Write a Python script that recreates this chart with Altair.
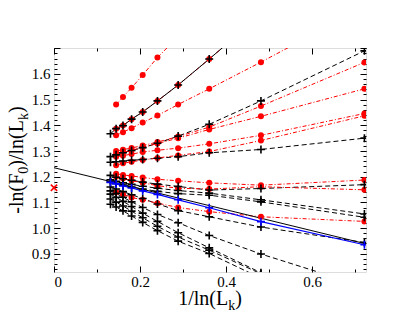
import altair as alt
import pandas as pd

# x positions: 1/ln(L_k) for L_k = 2048 ... 4
X = [0.1312, 0.1443, 0.1603, 0.1803, 0.2061, 0.2404, 0.2885, 0.3607, 0.4809, 0.7213]

# black dashed series (plus markers)
bd1 = [1.278, 1.285, 1.293, 1.302, 1.313, 1.330, 1.358, 1.404, 1.495, 1.690]
bd2 = [1.256, 1.258, 1.261, 1.264, 1.267, 1.272, 1.278, 1.293, 1.306, 1.350]
bd3 = [1.205, 1.198, 1.192, 1.186, 1.179, 1.171, 1.162, 1.148, 1.154, 1.169]
bd4 = [1.188, 1.182, 1.176, 1.170, 1.163, 1.155, 1.146, 1.136, 1.110, 1.055]
bd5 = [1.180, 1.174, 1.167, 1.160, 1.152, 1.143, 1.134, 1.128, 1.102, 1.042]
bd6 = [1.160, 1.152, 1.142, 1.130, 1.115, 1.094, 1.068, 1.044, 1.004, 0.944]
bd7 = [1.145, 1.135, 1.120, 1.102, 1.080, 1.053, 1.021, 0.971, 0.899, 0.772]
bd8 = [1.132, 1.120, 1.104, 1.084, 1.058, 1.026, 0.982, 0.923, 0.826, None]
bd9 = [1.113, 1.101, 1.086, 1.066, 1.040, 1.007, 0.965, 0.914, 0.822, None]
bd10 = [1.093, 1.082, 1.067, 1.047, 1.022, 0.990, 0.949, 0.901, 0.805, None]

# red dash-dot series (filled dots)
r1 = [None, 1.481, 1.510, 1.546, 1.596, 1.664, 1.745, None, None, None]
r2 = [None, 1.387, 1.399, 1.424, 1.452, 1.495, 1.557, 1.658, 1.830, None]
r3 = [None, 1.361, 1.373, 1.389, 1.411, 1.438, 1.481, 1.542, 1.646, 1.860]
r4 = [None, 1.300, 1.305, 1.312, 1.321, 1.335, 1.356, 1.393, 1.475, 1.645]
r5 = [None, 1.289, 1.295, 1.303, 1.314, 1.329, 1.350, 1.384, 1.435, 1.542]
r6 = [None, 1.278, 1.282, 1.288, 1.296, 1.303, 1.311, 1.328, 1.361, 1.446]
r7 = [None, 1.245, 1.252, 1.258, 1.265, 1.273, 1.283, 1.298, 1.341, 1.437]
r8 = [None, 1.211, 1.207, 1.203, 1.197, 1.190, 1.184, 1.176, 1.167, 1.187]
r9 = [None, 1.200, 1.193, 1.185, 1.176, 1.165, 1.155, 1.152, 1.161, 1.149]
r10 = [None, 1.139, 1.132, 1.119, 1.110, 1.097, 1.080, 1.064, 1.044, 1.026]

# black solid series (plus markers)
bs1 = [1.367, 1.387, 1.399, 1.424, 1.452, 1.495, 1.557, 1.658, 1.830, None]

# blue solid series (plus markers)
blue1 = [1.178, 1.172, 1.164, 1.156, 1.145, 1.131, 1.110, 1.079, 1.025, 0.935]

# linear fit of the blue series, extrapolated to 1/ln(L)=0
fit_x = [0.0, 0.7213]
fit_y = [1.235, 0.940]

# reference value at x = 0
ref_x = [0.0]
ref_y = [1.157]

x_label_values = [0.0, 0.2, 0.4, 0.6]
x_minor_values = [0.1, 0.3, 0.5, 0.7]
y_label_values = [0.9, 1.0, 1.1, 1.2, 1.3, 1.4, 1.5, 1.6]
y_major_values = [0.9, 1.0, 1.1, 1.2, 1.3, 1.4, 1.5, 1.6, 1.7]
y_minor_values = [round(0.84 + 0.02 * i, 2) for i in range(44)]


def long(series):
    rows = []
    for name, ys in series.items():
        for x, y in zip(X, ys):
            if y is not None:
                rows.append({"x": x, "y": y, "s": name})
    return pd.DataFrame(rows)


df_bd = long({"bd1": bd1, "bd2": bd2, "bd3": bd3, "bd4": bd4, "bd5": bd5,
              "bd6": bd6, "bd7": bd7, "bd8": bd8, "bd9": bd9, "bd10": bd10})
df_r = long({"r1": r1, "r2": r2, "r3": r3, "r4": r4, "r5": r5, "r6": r6,
             "r7": r7, "r8": r8, "r9": r9, "r10": r10})
df_bs = long({"bs1": bs1})
df_blue = long({"blue1": blue1})
df_fit = pd.DataFrame({"x": fit_x, "y": fit_y})
df_ref = pd.DataFrame({"x": ref_x, "y": ref_y})

XS = alt.Scale(domain=[0, 0.725], nice=False, zero=False)
YS = alt.Scale(domain=[0.829, 1.701], nice=False, zero=False)
FONT = "Liberation Serif"
CROSS = "M-1,0L1,0M0,-1L0,1"
XMARK = "M-1,-1L1,1M-1,1L1,-1"


def enc(chart, xaxis=None, yaxis=None, detail=True):
    kw = dict(
        x=alt.X("x:Q", scale=XS, axis=xaxis),
        y=alt.Y("y:Q", scale=YS, axis=yaxis),
    )
    if detail:
        kw["detail"] = "s:N"
    return chart.encode(**kw)


lines_bd = enc(alt.Chart(df_bd).mark_line(color="black", strokeWidth=1, strokeDash=[5, 3], clip=True))
lines_r = enc(alt.Chart(df_r).mark_line(color="#ff0000", strokeWidth=1, strokeDash=[4, 2, 1, 2], clip=True))
lines_bs = enc(alt.Chart(df_bs).mark_line(color="black", strokeWidth=1, clip=True))
line_fit = enc(alt.Chart(df_fit).mark_line(color="black", strokeWidth=1, clip=True), detail=False)
lines_blue = enc(alt.Chart(df_blue).mark_line(color="#0000ff", strokeWidth=1.2, clip=True))

pts_r = enc(alt.Chart(df_r).mark_circle(color="#ff0000", size=36, opacity=1, clip=True))
pts_bd = enc(alt.Chart(df_bd).mark_point(shape=CROSS, size=64, filled=False, color="black",
                                          strokeWidth=1.6, opacity=1, clip=True))
pts_bs = enc(alt.Chart(df_bs).mark_point(shape=CROSS, size=64, filled=False, color="black",
                                          strokeWidth=1.6, opacity=1, clip=True))
pts_blue = enc(alt.Chart(df_blue).mark_point(shape=CROSS, size=64, filled=False, color="#0000ff",
                                              strokeWidth=1.6, opacity=1, clip=True))
pt_ref = enc(alt.Chart(df_ref).mark_point(shape=XMARK, size=40, filled=False, color="#ff0000",
                                           strokeWidth=1.6, opacity=1), detail=False)


def tick_axis(orient, values, size):
    return alt.Axis(orient=orient, values=values, labels=False, domain=False, grid=False,
                    ticks=True, tickSize=size, offset=-size, tickColor="black",
                    tickWidth=1, title=None)


label_x = alt.Axis(orient="bottom", values=x_label_values, ticks=False, tickSize=0, domain=False,
                   grid=False, title=None, labelFont=FONT, labelFontSize=15, labelColor="black",
                   labelPadding=2,
                   labelExpr="datum.value == 0 ? '0' : format(datum.value, '.1f')")
label_y = alt.Axis(orient="left", values=y_label_values, ticks=False, tickSize=0, domain=False,
                   grid=False, title=None, labelFont=FONT, labelFontSize=15, labelColor="black",
                   labelPadding=4, format=".1f")

axis_layers = []
for xa, ya in [
    (label_x, label_y),
    (tick_axis("bottom", x_label_values, 6), tick_axis("left", y_major_values, 6)),
    (tick_axis("top", x_label_values, 6), tick_axis("right", y_major_values, 6)),
    (tick_axis("bottom", x_minor_values, 3), tick_axis("left", y_minor_values, 3)),
    (tick_axis("top", x_minor_values, 3), tick_axis("right", y_minor_values, 3)),
]:
    axis_layers.append(enc(alt.Chart(df_fit).mark_point(opacity=0), xa, ya, detail=False))

# axis titles with subscripts, built from text pieces
one = pd.DataFrame({"a": [0]})
W = {'1': 0.5, '/': 0.278, 'l': 0.278, 'n': 0.5, '(': 0.333, ')': 0.333, 'L': 0.611,
     'k': 0.5, '-': 0.333, 'F': 0.556, '0': 0.5}
MAIN, SUB = 20, 14
PLOT_W, PLOT_H = 312, 224


def width(s, fs):
    return sum(W.get(c, 0.5) for c in s) * fs


def txt(s, x, y, fs, angle=0):
    return alt.Chart(one).mark_text(text=s, font=FONT, fontSize=fs, angle=angle, align="left",
                                    baseline="alphabetic", color="black").encode(
        x=alt.value(x), y=alt.value(y))


title_layers = []
x_pieces = [("1/ln(L", False), ("k", True), (")", False)]
total = sum(width(s, SUB if sub else MAIN) for s, sub in x_pieces)
cx = PLOT_W / 2 - total / 2
for s, sub in x_pieces:
    fs = SUB if sub else MAIN
    title_layers.append(txt(s, cx, 256.5 + (5 if sub else 0), fs))
    cx += width(s, fs)

y_pieces = [("-ln(F", False), ("0", True), (")/ln(L", False), ("k", True), (")", False)]
total = sum(width(s, SUB if sub else MAIN) for s, sub in y_pieces)
cy = PLOT_H / 2 + total / 2
for s, sub in y_pieces:
    fs = SUB if sub else MAIN
    title_layers.append(txt(s, -31 + (5 if sub else 0), cy, fs, angle=270))
    cy -= width(s, fs)

chart = alt.layer(
    *axis_layers,
    lines_bd, lines_r, lines_bs, line_fit, lines_blue,
    pts_r, pts_bd, pts_bs, pts_blue, pt_ref,
    *title_layers,
).resolve_axis(x="independent", y="independent").properties(
    width=PLOT_W, height=PLOT_H,
    autosize=alt.AutoSizeParams(type="none"),
    padding={"left": 46, "top": 40, "right": 33, "bottom": 40},
).configure_view(stroke="black", strokeWidth=1.2).configure(background="white")

chart.save("out.html", embed_options={"renderer": "svg", "actions": False})
